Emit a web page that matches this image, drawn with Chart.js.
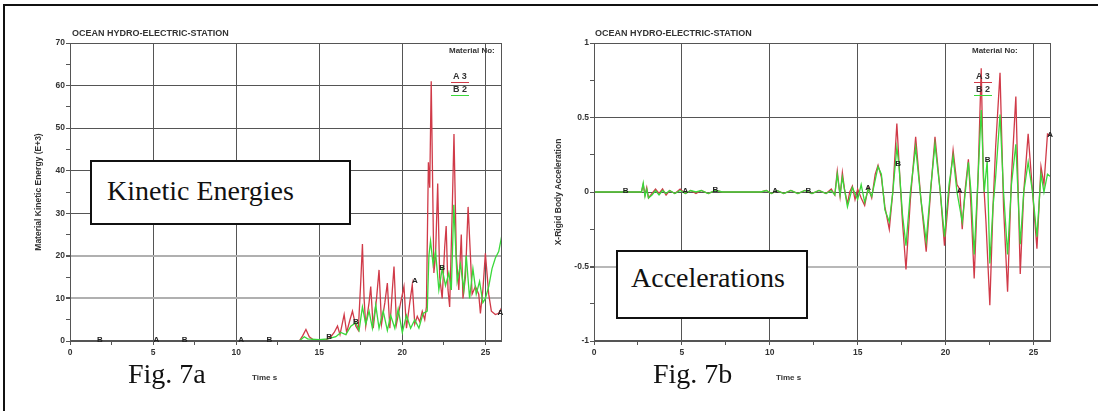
<!DOCTYPE html>
<html>
<head>
<meta charset="utf-8">
<script src="https://cdn.jsdelivr.net/npm/chart.js@4.4.1/dist/chart.umd.min.js"></script>
<style>
  body { margin:0; background:#fff; width:1098px; height:411px; overflow:hidden; position:relative;
         font-family:"Liberation Sans", Arial, sans-serif; color:#333; }
  .frame { position:absolute; left:3px; top:4px; width:1095px; height:407px;
           border-left:2px solid #111; border-top:2px solid #111; }
  canvas { position:absolute; top:0; }
  .t { position:absolute; font-weight:bold; white-space:nowrap; line-height:10px; }
  .ttl { font-size:9px; top:28px; }
  .mat { font-size:8px; top:46px; }
  .leg { font-size:9px; padding:0 2px 1px 2px; }
  .big { position:absolute; font-family:"Liberation Serif", "Times New Roman", serif; font-size:28px;
         line-height:28px; color:#111; white-space:nowrap; }
  .box { position:absolute; border:2px solid #111; background:#fff; box-sizing:border-box; }
  .tm { font-size:8px; top:373px; }
</style>
</head>
<body>
<div class="frame"></div>
<canvas id="chart-ke" width="549" height="411" style="left:0"></canvas>
<canvas id="chart-acc" width="549" height="411" style="left:549px"></canvas>

<!-- textos em volta dos graficos -->
<div class="t ttl" style="left:72px">OCEAN HYDRO-ELECTRIC-STATION</div>
<div class="t ttl" style="left:595px">OCEAN HYDRO-ELECTRIC-STATION</div>
<div class="t mat" style="left:449px">Material No:</div>
<div class="t mat" style="left:972px">Material No:</div>
<div class="t leg" style="left:451px;top:71px;border-bottom:1px solid #d03a48">A 3</div>
<div class="t leg" style="left:451px;top:84px;border-bottom:1px solid #3ad83a">B 2</div>
<div class="t leg" style="left:974px;top:71px;border-bottom:1px solid #d03a48">A 3</div>
<div class="t leg" style="left:974px;top:84px;border-bottom:1px solid #3ad83a">B 2</div>

<div class="box" style="left:90px;top:160px;width:261px;height:65px"></div>
<div class="big" style="left:107px;top:177px">Kinetic Energies</div>
<div class="box" style="left:616px;top:250px;width:192px;height:69px"></div>
<div class="big" style="left:631px;top:264px">Accelerations</div>

<div class="big" style="left:128px;top:360px">Fig. 7a</div>
<div class="big" style="left:653px;top:360px">Fig. 7b</div>
<div class="t tm" style="left:252px">Time s</div>
<div class="t tm" style="left:776px">Time s</div>

<script>
// Eixo X comum (tempo em s)
const xTicks = [0, 2.5, 5, 7.5, 10, 12.5, 15, 17.5, 20, 22.5, 25];

// Fig. 7a - energia cinetica (E+3), material A (3) e B (2)
const keTimeA = [0, 13.8, 14.0, 14.2, 14.4, 14.6, 15.0, 15.4, 15.7, 15.9, 16.1, 16.25, 16.5, 16.65, 16.85, 17.0,
  17.2, 17.35, 17.5, 17.6, 17.7, 17.8, 18.0, 18.1, 18.25, 18.45, 18.6, 18.75, 18.95, 19.1, 19.25, 19.4, 19.5,
  19.65, 19.9, 20.1, 20.25, 20.45, 20.6, 20.75, 20.9, 21.05, 21.2, 21.35, 21.45, 21.57, 21.65, 21.74, 21.9,
  22.0, 22.13, 22.25, 22.4, 22.55, 22.64, 22.75, 22.85, 23.0, 23.11, 23.25, 23.4, 23.55, 23.65, 23.8, 23.96,
  24.1, 24.2, 24.4, 24.6, 24.7, 24.85, 25.0, 25.2, 25.36, 25.6, 25.8, 26.0];
const keA = [0, 0, 1.2, 2.7, 1.0, 0.4, 0.3, 0.2, 1.0, 2.0, 3.5, 1.5, 6.2, 2.0, 5.0, 7.0,
  3.5, 2.5, 14, 22.8, 10, 3.5, 9, 12.8, 3, 10, 16.7, 4, 9, 13.6, 3, 12, 17.5,
  4, 9, 12.8, 3, 9, 13.2, 4, 5.8, 4.5, 7, 5, 8, 42, 36, 61, 16,
  20, 37, 15, 10, 22, 27, 12, 8, 30, 48.6, 20, 12, 25, 10, 15, 31.5,
  20, 11, 12.8, 11, 6.5, 12, 20.6, 11, 7, 6.2, 6.5, 8];

const keTimeB = [0, 13.8, 14.1, 14.3, 15.0, 15.5, 16.0, 16.3, 16.6, 16.9, 17.2, 17.4, 17.6, 17.8, 18.0, 18.2,
  18.4, 18.6, 18.85, 19.1, 19.3, 19.55, 19.75, 20.0, 20.25, 20.5, 20.75, 21.0, 21.25, 21.5, 21.6, 21.7, 21.85,
  22.0, 22.2, 22.4, 22.6, 22.8, 22.95, 23.1, 23.3, 23.5, 23.7, 23.85, 24.05, 24.25, 24.45, 24.65, 24.85,
  25.0, 25.2, 25.4, 25.6, 25.8, 26.0];
const keB = [0, 0, 1.0, 0.5, 0.3, 0.5, 1.0, 2.0, 1.5, 3.5, 4.3, 2.5, 8, 4, 7, 3,
  8.5, 3, 7, 2.5, 6, 3, 7.5, 2, 6, 3, 5, 3, 6.5, 7, 20, 23.5, 18,
  21, 12, 17, 13, 16, 12, 32, 14, 18, 12, 20, 10, 17, 11, 14, 9,
  10, 12.8, 17, 19.5, 21, 25];

// Fig. 7b - aceleracao X do corpo rigido
const accTimeA = [0, 2.7, 2.8, 2.9, 3.0, 3.1, 3.3, 3.5, 3.7, 3.9, 4.1, 4.3, 4.6, 4.9, 5.2, 5.5, 5.8, 6.1, 6.5,
  6.9, 7.3, 9.5, 9.8, 10.1, 10.4, 10.8, 11.2, 11.6, 12.0, 12.4, 12.8, 13.2, 13.5, 13.7, 13.84, 14.0, 14.13,
  14.25, 14.42, 14.55, 14.7, 14.85, 15.0, 15.2, 15.4, 15.6, 15.8, 16.0, 16.16, 16.35, 16.55, 16.8, 17.0,
  17.23, 17.4, 17.55, 17.75, 18.0, 18.3, 18.6, 18.9, 19.15, 19.4, 19.7, 19.94, 20.2, 20.43, 20.65, 20.8,
  20.95, 21.1, 21.3, 21.45, 21.63, 21.85, 22.03, 22.15, 22.3, 22.52, 22.7, 22.85, 23.1, 23.3, 23.53, 23.75,
  24.0, 24.25, 24.45, 24.7, 24.95, 25.2, 25.43, 25.6, 25.8, 26.0];
const accA = [0, 0, 0.05, -0.02, 0.03, -0.04, -0.01, 0.02, -0.01, 0.02, -0.02, 0.01, -0.01, 0.02, -0.01, 0.01,
  -0.01, 0.01, -0.01, 0.01, 0, 0, 0.01, -0.01, 0.01, -0.01, 0.01, -0.01, 0.01, -0.01, 0.01, -0.01, 0.02,
  -0.02, 0.14, -0.03, 0.13, 0.02, -0.08, 0.0, 0.04, -0.05, 0.02, -0.04, -0.09, 0.03, -0.04, 0.12, 0.18,
  0.1, -0.1, -0.25, 0.0, 0.46, 0.1, -0.2, -0.52, -0.05, 0.37, -0.05, -0.4, 0.0, 0.37, 0.0, -0.36, 0.0,
  0.28, 0.05, 0.02, -0.25, 0.0, 0.22, -0.1, -0.58, 0.1, 0.83, 0.1, -0.2, -0.76, -0.1, 0.3, 0.8, -0.1,
  -0.67, 0.1, 0.64, -0.55, 0.0, 0.39, 0.0, -0.38, 0.17, 0.05, 0.39, 0.38];

const accTimeB = [0, 2.7, 2.8, 2.9, 3.0, 3.1, 3.3, 3.5, 3.7, 3.9, 4.1, 4.3, 4.6, 4.9, 5.2, 5.5, 5.8, 6.1, 6.5,
  6.9, 7.3, 9.5, 9.8, 10.1, 10.4, 10.8, 11.2, 11.6, 12.0, 12.4, 12.8, 13.2, 13.5, 13.7, 13.84, 14.0, 14.13,
  14.42, 14.7, 15.0, 15.2, 15.4, 15.6, 15.8, 16.16, 16.35, 16.55, 16.8, 17.0, 17.23, 17.35, 17.55, 17.75,
  18.0, 18.3, 18.6, 18.9, 19.15, 19.4, 19.7, 19.94, 20.2, 20.43, 20.65, 20.95, 21.3, 21.45, 21.63, 21.85,
  22.03, 22.2, 22.37, 22.52, 22.7, 22.85, 23.1, 23.3, 23.53, 23.75, 24.0, 24.25, 24.45, 24.7, 24.95, 25.2,
  25.43, 25.6, 25.8, 26.0];
const accB = [0, 0, 0.06, -0.03, 0.02, -0.04, -0.02, 0.01, -0.02, 0.01, -0.01, 0.01, -0.01, 0.01, -0.01, 0.01,
  0, 0.01, -0.01, 0.01, 0, 0, 0.01, -0.01, 0.01, -0.01, 0.01, -0.01, 0.01, -0.01, 0.01, -0.01, 0.01,
  -0.02, 0.12, -0.02, 0.1, -0.1, 0.03, -0.05, 0.05, -0.07, 0.02, -0.03, 0.17, 0.12, -0.12, -0.2, 0.0,
  0.3, 0.18, -0.15, -0.36, 0.0, 0.3, -0.05, -0.33, 0.02, 0.32, 0.0, -0.3, 0.05, 0.24, 0.0, -0.2, 0.2,
  0.0, -0.42, 0.1, 0.55, 0.0, 0.21, -0.48, -0.1, 0.1, 0.52, 0.0, -0.42, 0.05, 0.32, -0.35, 0.0, 0.2,
  0.0, -0.3, 0.12, 0.0, 0.12, 0.1];

// Letras A/B marcadas sobre as curvas
const keMarkT = [1.8, 5.2, 6.9, 10.3, 12.0, 15.6, 17.2, 20.75, 22.4, 25.9];
const keMarkV = [0, 0, 0, 0, 0, 0.8, 4.3, 14, 17, 6.5];
const keMarkL = ['B', 'A', 'B', 'A', 'B', 'B', 'B', 'A', 'B', 'A'];
const accMarkT = [1.8, 5.2, 6.9, 10.3, 12.2, 15.6, 17.3, 20.8, 22.4, 25.95];
const accMarkV = [0, 0, 0.01, 0, 0, 0.02, 0.18, 0.0, 0.21, 0.38];
const accMarkL = ['B', 'A', 'B', 'A', 'B', 'A', 'B', 'A', 'B', 'A'];

const keYTicks = [0, 5, 10, 15, 20, 25, 30, 35, 40, 45, 50, 55, 60, 65, 70];
const accYTicks = [-1, -0.75, -0.5, -0.25, 0, 0.25, 0.5, 0.75, 1];

const toPoints = (ts, vs) => ts.map((t, i) => ({x: t, y: vs[i]}));

// Moldura da area do grafico + letras das curvas
const framePlugin = {
  id: 'frameMarks',
  afterDatasetsDraw(chart, args, opts) {
    const {ctx, chartArea: a, scales} = chart;
    ctx.save();
    ctx.strokeStyle = '#555';
    ctx.lineWidth = 1;
    ctx.strokeRect(a.left + 0.5, a.top + 0.5, a.right - a.left - 1, a.bottom - a.top - 1);
    ctx.font = 'bold 8px "Liberation Sans", Arial, sans-serif';
    ctx.fillStyle = '#222';
    ctx.textAlign = 'center';
    ctx.textBaseline = 'middle';
    opts.t.forEach((t, i) => {
      ctx.fillText(opts.l[i], scales.x.getPixelForValue(t), scales.y.getPixelForValue(opts.v[i]) - 1);
    });
    ctx.restore();
  }
};

function makeChart(id, cfg) {
  return new Chart(document.getElementById(id), {
    type: 'line',
    data: {
      datasets: [{
        label: 'A 3',
        data: toPoints(cfg.tA, cfg.vA),
        borderColor: '#d03a48',
        borderWidth: 1.3,
        pointRadius: 0,
        order: 1,
      }, {
        label: 'B 2',
        data: toPoints(cfg.tB, cfg.vB),
        borderColor: '#3ad83a',
        borderWidth: 1.3,
        pointRadius: 0,
        order: 0,
      }]
    },
    options: {
      responsive: false,
      animation: false,
      layout: { padding: { left: cfg.padLeft, top: 43, right: 47, bottom: 50 } },
      plugins: {
        legend: { display: false },
        tooltip: { enabled: false },
        frameMarks: cfg.marks,
      },
      scales: {
        x: {
          type: 'linear',
          min: 0,
          max: 26,
          afterBuildTicks: s => { s.ticks = xTicks.map(v => ({value: v})); },
          afterFit: s => { s.height = 20; },
          grid: {
            color: c => (c.tick && c.tick.value % 5 === 0) ? '#555' : 'rgba(0,0,0,0)',
            tickColor: '#555',
            tickLength: 4,
          },
          border: { display: false },
          ticks: {
            autoSkip: false,
            maxRotation: 0,
            padding: 3,
            color: '#333',
            font: { size: 8.5, weight: 'bold', family: '"Liberation Sans", Arial, sans-serif' },
            callback: v => (v % 5 === 0 ? v : ''),
          },
        },
        y: {
          min: cfg.yMin,
          max: cfg.yMax,
          afterBuildTicks: s => { s.ticks = cfg.yTicks.map(v => ({value: v})); },
          afterFit: s => { s.width = cfg.yWidth; },
          grid: {
            color: c => (c.tick && cfg.major(c.tick.value)) ? cfg.gridColor(c.tick.value) : 'rgba(0,0,0,0)',
            lineWidth: c => (c.tick && cfg.light(c.tick.value)) ? 2 : 1,
            tickColor: '#555',
            tickLength: 4,
          },
          border: { display: false },
          title: {
            display: true,
            text: cfg.yTitle,
            color: '#333',
            padding: { top: 0, bottom: 2 },
            font: { size: 8.5, weight: 'bold', family: '"Liberation Sans", Arial, sans-serif' },
          },
          ticks: {
            autoSkip: false,
            padding: 1,
            color: '#333',
            font: { size: 8.5, weight: 'bold', family: '"Liberation Sans", Arial, sans-serif' },
            callback: v => (cfg.major(v) ? v : ''),
          },
        },
      },
    },
    plugins: [framePlugin],
  });
}

const chartKE = makeChart('chart-ke', {
  tA: keTimeA, vA: keA, tB: keTimeB, vB: keB,
  yMin: 0, yMax: 70, yTicks: keYTicks, padLeft: 34, yWidth: 36,
  yTitle: 'Material Kinetic Energy (E+3)',
  major: v => v % 10 === 0,
  light: v => v === 10 || v === 20,
  gridColor: v => (v === 10 || v === 20) ? '#b0b0b0' : '#555',
  marks: { t: keMarkT, v: keMarkV, l: keMarkL },
});

const chartAcc = makeChart('chart-acc', {
  tA: accTimeA, vA: accA, tB: accTimeB, vB: accB,
  yMin: -1, yMax: 1, yTicks: accYTicks, padLeft: 5, yWidth: 40,
  yTitle: 'X-Rigid Body Acceleration',
  major: v => Math.abs(v * 2 - Math.round(v * 2)) < 1e-9,
  light: v => v === -0.5,
  gridColor: v => v === -0.5 ? '#b8b8b8' : '#555',
  marks: { t: accMarkT, v: accMarkV, l: accMarkL },
});
</script>
</body>
</html>
